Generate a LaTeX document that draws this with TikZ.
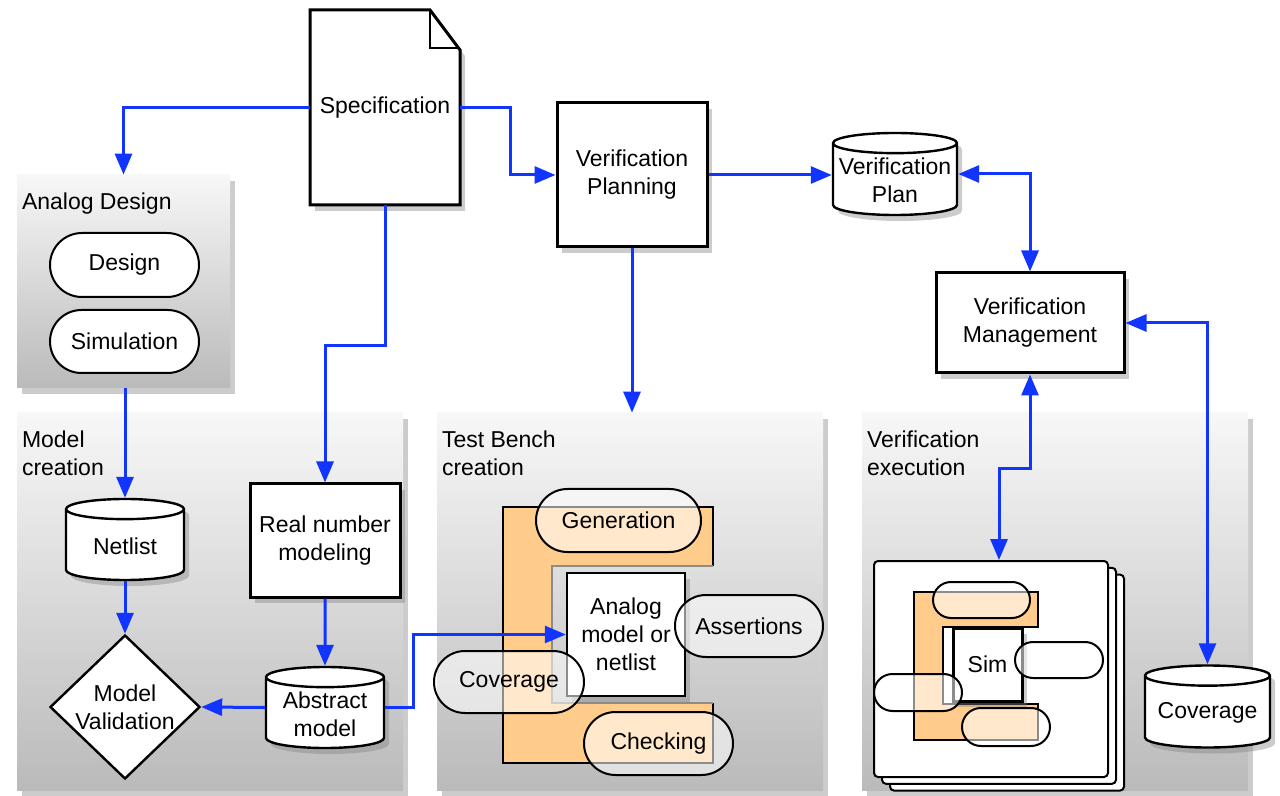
\documentclass[tikz,border=0pt]{standalone}
\usepackage{fontspec}
\setmainfont{Liberation Sans}
\usepackage{tikz}
\usetikzlibrary{arrows.meta,positioning,shapes.geometric,shapes.misc,shadows,calc}

\definecolor{flowblue}{RGB}{18,52,255}
\definecolor{benchorange}{RGB}{255,204,140}

\begin{document}
\begin{tikzpicture}[
  x=0.5pt, y=-0.5pt,
  font=\fontsize{11.5}{14}\selectfont,
  dropsh/.style={drop shadow={shadow xshift=2.5pt, shadow yshift=-3pt, opacity=0.4}},
  panel/.style={rectangle, inner sep=0pt, top color=white!97!black, bottom color=black!27, dropsh},
  ptitle/.style={inner sep=0pt, align=left},
  box/.style={draw, line width=1.5pt, fill=white, align=center, inner sep=0pt, dropsh},
  cyl/.style={cylinder, shape border rotate=90, aspect=0.18, draw, line width=1.2pt,
    fill=white, inner sep=0pt, anchor=shape center, dropsh,
    label={[align=center, yshift=-0.5pt]center:#1}},
  pill/.style={rounded rectangle, draw, line width=1pt, fill=white, inner sep=0pt},
  glass/.style={rounded rectangle, draw, line width=1pt, fill=white, fill opacity=0.55,
    text opacity=1, inner sep=0pt},
  card/.style={draw, rounded corners=2pt, line width=1pt, fill=white, inner sep=0pt,
    minimum width=117pt, minimum height=108pt},
  cshape/.style={fill=benchorange, draw, line width=1.3pt},
  flow/.style={draw=flowblue, line width=1.5pt, -{Triangle[length=10.5pt,width=8.5pt]}},
  twoway/.style={flow, {Triangle[length=10.5pt,width=8.5pt]}-{Triangle[length=10.5pt,width=8.5pt]}},
]
  \useasboundingbox (0,0) rectangle (1280,796);

  \node[panel, minimum width=106.5pt, minimum height=106.5pt] (analog) at (123.5,281.5) {};
  \node[panel, minimum width=193pt, minimum height=188.5pt] (model) at (210,601.5) {};
  \node[panel, minimum width=193pt, minimum height=188.5pt] (bench) at (630,601.5) {};
  \node[panel, minimum width=193pt, minimum height=188.5pt] (exec) at (1055,601.5) {};

  \node[ptitle, below right=9pt and 2.5pt of analog.north west] (analogtitle) {Analog Design};
  \node[ptitle, below right=9pt and 2.5pt of model.north west] (modeltitle) {Model\\creation};
  \node[ptitle, below right=9pt and 2.5pt of bench.north west] (benchtitle) {Test Bench\\creation};
  \node[ptitle, below right=9pt and 2.5pt of exec.north west] (exectitle) {Verification\\execution};

  \node[pill, minimum width=74.5pt, minimum height=32pt] (design) at (124.5,265) {Design};
  \node[pill, minimum width=74.5pt, minimum height=31.5pt] (simul) at (124.5,341.5) {Simulation};

  \node[cyl=Netlist, minimum width=59pt, minimum height=40.5pt] (netlist) at (125,539.5) {\hspace*{56pt}};
  \node[diamond, draw, line width=1.2pt, fill=white, minimum width=75pt, minimum height=72pt,
    inner sep=0pt, label={[align=center]center:Model\\Validation}] (valid) at (125,707) {};
  \node[box, minimum width=75pt, minimum height=56.5pt] (realnum) at (325,540.5) {Real number\\modeling};
  \node[cyl={Abstract\\model}, minimum width=59pt, minimum height=40.5pt] (absmodel) at (325,707.5)
    {\hspace*{56pt}};

  \fill[benchorange] (503,507) -- (713,507) -- (713,566) -- (552,566) -- (552,703)
    -- (713,703) -- (713,763) -- (503,763) -- cycle;
  \draw[line width=1.3pt] (713,566) -- (713,507) -- (503,507) -- (503,763) -- (713,763) -- (713,703);
  \draw[line width=1.3pt, black!45] (713,703) -- (552,703) -- (552,566) -- (713,566);
  \node[box, line width=1.2pt, minimum width=59pt, minimum height=61.5pt] (dut) at (626,634.5)
    {Analog\\model or\\netlist};
  \node[glass, minimum width=82.5pt, minimum height=31.5pt] (gen) at (618.5,520.5) {Generation};
  \node[glass, minimum width=74pt, minimum height=31pt] (assert) at (749,626) {Assertions};
  \node[glass, minimum width=75pt, minimum height=31pt] (tbcov) at (509,682) {Coverage};
  \node[glass, minimum width=74.5pt, minimum height=31.5pt] (check) at (658.5,743.5) {Checking};

  \foreach \d in {16,8}
    \node[card] at (991+\d,669+0.85*\d) {};
  \node[card] (run) at (991,669) {};
  \filldraw[cshape] (914,592) -- (1038,592) -- (1038,627) -- (943,627) -- (943,704)
    -- (1038,704) -- (1038,740) -- (914,740) -- cycle;
  \node[box, minimum width=34.5pt, minimum height=36.5pt] (sim) at (987.5,664.5) {Sim};
  \node[glass, minimum width=48.5pt, minimum height=18pt] (simgen) at (981.5,600) {};
  \node[glass, minimum width=44pt, minimum height=18pt] (simassert) at (1059,660) {};
  \node[glass, minimum width=44pt, minimum height=18.5pt] (simcov) at (918,692.5) {};
  \node[glass, minimum width=44pt, minimum height=19pt] (simcheck) at (1006,727) {};

  \filldraw[fill=white, line width=1.5pt, dropsh] (310,10) -- (430,10) -- (460,50)
    -- (460,205) -- (310,205) -- cycle;
  \draw[line width=1.2pt] (430,10) -- (430,48) -- (458,48);
  \node[inner sep=0pt, minimum width=75pt, minimum height=97.5pt] (spec) at (385,107.5) {Specification};

  \node[box, minimum width=75pt, minimum height=72pt] (plan) at (632,175) {Verification\\Planning};
  \node[cyl={Verification\\Plan}, minimum width=62pt, minimum height=41pt] (vplan) at (895,174)
    {\hspace*{56pt}};
  \node[box, minimum width=94pt, minimum height=50pt] (mgmt) at (1030,323) {Verification\\Management};
  \node[cyl=Coverage, minimum width=62.5pt, minimum height=41pt] (cov) at (1207.5,706.5)
    {\hspace*{56pt}};

  \draw[flow] (spec.west) -| (analog.north);
  \draw[flow] (spec.east) -- ++(50,0) |- (plan.west);
  \draw[flow] (spec.south) -- ++(0,140) -| (realnum.north);
  \draw[flow] (plan.east) -- (plan.east -| vplan.west);
  \draw[flow] (plan.south) -- (plan.south |- bench.north);
  \draw[twoway] (vplan.east |- vplan.shape center) -| (mgmt.north);
  \draw[twoway] (mgmt.east) -| (cov.north);
  \draw[twoway] (mgmt.south) -- ++(0,94) -| ($(run.north)+(8,0)$);
  \draw[flow] (analog.south -| netlist.north) -- (netlist.north);
  \draw[flow] (netlist.south) -- (valid.north);
  \draw[flow] (realnum.south) -- (absmodel.north);
  \draw[flow] (absmodel.west |- absmodel.shape center) -- (valid.east);
  \draw[flow] (absmodel.east |- absmodel.shape center) -- ++(28,0) |- (dut.west);
\end{tikzpicture}
\end{document}
